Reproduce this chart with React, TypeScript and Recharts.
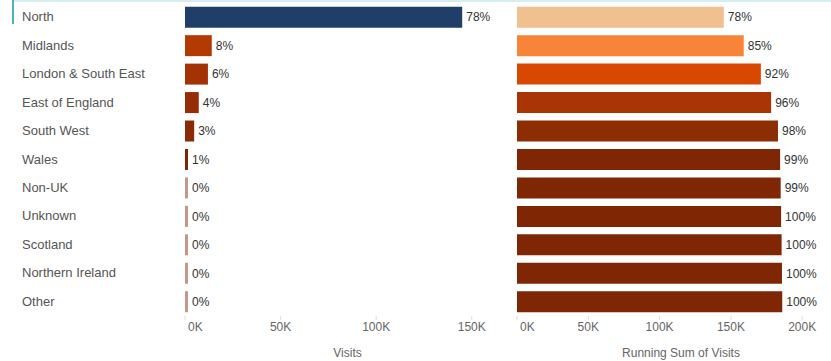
import { BarChart, Bar, XAxis, YAxis, Cell, LabelList, Label } from 'recharts';

const regions = [
  'North',
  'Midlands',
  'London & South East',
  'East of England',
  'South West',
  'Wales',
  'Non-UK',
  'Unknown',
  'Scotland',
  'Northern Ireland',
  'Other',
];

const visits = [145000, 14000, 12000, 7200, 4800, 1500, 400, 300, 350, 250, 200];

const visitTicks = [0, 50000, 100000, 150000];
const runningTicks = [0, 50000, 100000, 150000, 200000];

const visitColors = [
  '#1f3f68', '#b33a03', '#a33205', '#952d07', '#8a2b08', '#7f2704',
  '#c4978c', '#c4978c', '#c4978c', '#c4978c', '#c4978c',
];
const runningColors = [
  '#f0c08f', '#f8843a', '#d94801', '#a83503', '#8c2d04', '#7f2704',
  '#7f2704', '#7f2704', '#7f2704', '#7f2704', '#7f2704',
];

const total = visits.reduce((a, b) => a + b, 0);
let acc = 0;
const data = regions.map((region, i) => {
  acc += visits[i];
  return { region, visits: visits[i], running: acc };
});

const pct = (v: number) => `${Math.round((v / total) * 100)}%`;
const kFmt = (v: number) => `${v / 1000}K`;

const FONT = 'Arial, "Liberation Sans", sans-serif';

const RegionTick = ({ y, payload }: any) => (
  <text x={22} y={y} dy={4} textAnchor="start" fontSize={13} fill="#555" fontFamily={FONT}>
    {payload.value}
  </text>
);

// first tick label sits just right of zero, the rest are centred
const ValueTick = ({ x, y, payload }: any) => {
  const first = payload.value === 0;
  return (
    <text
      x={first ? x + 3 : x}
      y={y}
      dy={10}
      textAnchor={first ? 'start' : 'middle'}
      fontSize={12}
      fill="#666"
      fontFamily={FONT}
    >
      {kFmt(payload.value)}
    </text>
  );
};

const App = () => {
  return (
    <div
      style={{
        position: 'absolute',
        left: 0,
        top: 0,
        width: 831,
        height: 361,
        overflow: 'hidden',
        background: '#fff',
        fontFamily: FONT,
      }}
    >
      <div style={{ position: 'absolute', left: 13, top: 0, width: 818, height: 2, background: '#d6eef2' }} />
      <div style={{ position: 'absolute', left: 12, top: 0, width: 2, height: 24, background: '#4fb3b8' }} />

      <div style={{ position: 'absolute', left: 0, top: 0 }}>
        <BarChart
          width={515}
          height={361}
          data={data}
          layout="vertical"
          margin={{ top: 3, right: 5, left: 0, bottom: 0 }}
          barCategoryGap="13%"
          style={{ overflow: 'visible' }}
        >
          <YAxis
            type="category"
            dataKey="region"
            width={185}
            axisLine={false}
            tickLine={false}
            tick={<RegionTick />}
            interval={0}
          />
          <XAxis
            type="number"
            domain={[0, 170000]}
            ticks={visitTicks}
            interval={0}
            height={45}
            axisLine={false}
            tickLine={{ stroke: '#ddd' }}
            tickSize={4}
            tickMargin={1}
            tick={<ValueTick />}
          >
            <Label value="Visits" position="insideBottom" offset={4} fontSize={12} fill="#666" fontFamily={FONT} />
          </XAxis>
          <Bar dataKey="visits" isAnimationActive={false} minPointSize={3}>
            {data.map((d, i) => (
              <Cell key={`v-${d.region}`} fill={visitColors[i]} />
            ))}
            <LabelList
              dataKey="visits"
              position="right"
              offset={4}
              formatter={(v: any) => pct(Number(v))}
              fontSize={12}
              fill="#333"
              fontFamily={FONT}
            />
          </Bar>
        </BarChart>
      </div>

      <div style={{ position: 'absolute', left: 515, top: 0 }}>
        <BarChart
          width={330}
          height={361}
          data={data}
          layout="vertical"
          margin={{ top: 3, right: 0, left: 2, bottom: 0 }}
          barCategoryGap="13%"
          style={{ overflow: 'visible' }}
        >
          <YAxis type="category" dataKey="region" hide />
          <XAxis
            type="number"
            domain={[0, 230000]}
            ticks={runningTicks}
            interval={0}
            height={45}
            axisLine={false}
            tickLine={{ stroke: '#ddd' }}
            tickSize={4}
            tickMargin={1}
            tick={<ValueTick />}
          >
            <Label
              value="Running Sum of Visits"
              position="insideBottom"
              offset={4}
              fontSize={12}
              fill="#666"
              fontFamily={FONT}
            />
          </XAxis>
          <Bar dataKey="running" isAnimationActive={false}>
            {data.map((d, i) => (
              <Cell key={`r-${d.region}`} fill={runningColors[i]} />
            ))}
            <LabelList
              dataKey="running"
              position="right"
              offset={4}
              formatter={(v: any) => pct(Number(v))}
              fontSize={12}
              fill="#333"
              fontFamily={FONT}
            />
          </Bar>
        </BarChart>
      </div>
    </div>
  );
};

export default App;
